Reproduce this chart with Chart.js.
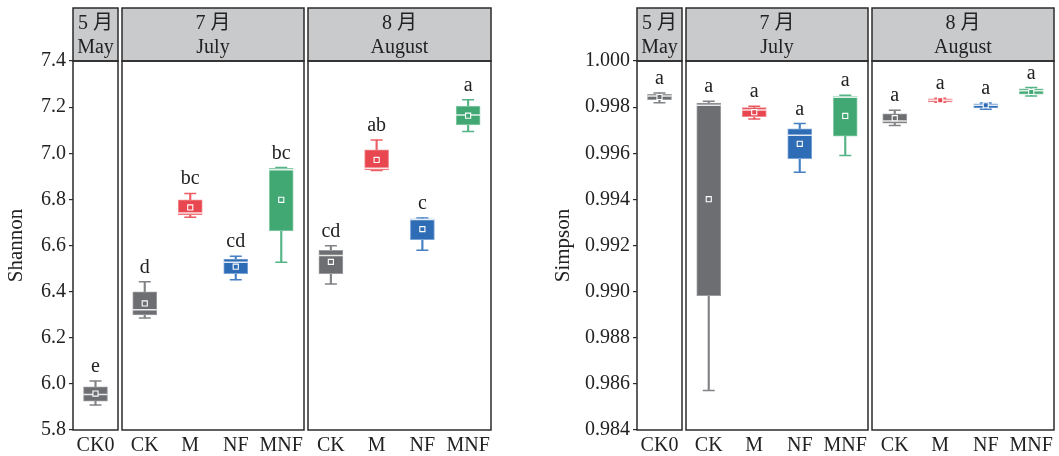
<!DOCTYPE html>
<html>
<head>
<meta charset="utf-8">
<script src="https://cdn.jsdelivr.net/npm/chart.js@4.4.0/dist/chart.umd.min.js"></script>
<style>
  html, body { margin: 0; padding: 0; background: #fff; }
  #wrap { position: relative; width: 1059px; height: 456px; overflow: hidden; }
  #wrap canvas { position: absolute; top: 0; }
</style>
</head>
<body>
<div id="wrap"></div>
<script>
// facets and groups
const monthZh = ["5 月", "7 月", "8 月"];
const monthEn = ["May", "July", "August"];
const facetGroups = [["CK0"], ["CK", "M", "NF", "MNF"], ["CK", "M", "NF", "MNF"]];

// order: CK0 | July CK M NF MNF | August CK M NF MNF
const shannonMin    = [5.908, 6.286, 6.723, 6.451, 6.527, 6.433, 6.925, 6.579, 7.094];
const shannonQ1     = [5.925, 6.299, 6.733, 6.478, 6.663, 6.478, 6.928, 6.625, 7.123];
const shannonMedian = [5.954, 6.321, 6.741, 6.527, 6.928, 6.557, 6.935, 6.713, 7.166];
const shannonQ3     = [5.987, 6.399, 6.798, 6.541, 6.935, 6.579, 7.015, 6.716, 7.205];
const shannonMax    = [6.012, 6.443, 6.826, 6.553, 6.938, 6.599, 7.057, 6.719, 7.232];
const shannonMean   = [5.958, 6.349, 6.765, 6.508, 6.798, 6.529, 6.971, 6.671, 7.163];
const shannonLetters = ["e", "d", "bc", "cd", "bc", "cd", "ab", "c", "a"];
const shannonTicks = { min: 5.8, max: 7.4, step: 0.2, digits: 1 };

const simpsonMin    = [0.99819, 0.98571, 0.99748, 0.99518, 0.99590, 0.99720, 0.99821, 0.99791, 0.998485];
const simpsonQ1     = [0.99832, 0.98983, 0.99759, 0.99577, 0.99674, 0.99730, 0.998225, 0.997965, 0.99856];
const simpsonMedian = [0.99848, 0.99808, 0.99788, 0.99678, 0.99843, 0.99740, 0.99830, 0.998082, 0.998715];
const simpsonQ3     = [0.99856, 0.99817, 0.99798, 0.99706, 0.99847, 0.99771, 0.998355, 0.998139, 0.998788];
const simpsonMax    = [0.998615, 0.998255, 0.99804, 0.997286, 0.998515, 0.997866, 0.998385, 0.998182, 0.998846];
const simpsonMean   = [0.99844, 0.99401, 0.99778, 0.99641, 0.99762, 0.99752, 0.99830, 0.998082, 0.99866];
const simpsonLetters = ["a", "a", "a", "a", "a", "a", "a", "a", "a"];
const simpsonTicks = { min: 0.984, max: 1.000, step: 0.002, digits: 3 };

const boxColors = { CK0: "#6d6e71", CK: "#6d6e71", M: "#e8474f", NF: "#2e6db5", MNF: "#41a873" };
const whiskerColors = { CK0: "#828386", CK: "#828386", M: "#eb5c63", NF: "#4580c4", MNF: "#55b486" };
const edgeColors = { CK0: "#9a9b9e", CK: "#9a9b9e", M: "#f08a8f", NF: "#7aa3d6", MNF: "#8acca9" };

const FONT = '"Liberation Serif", "Times New Roman", "Noto Sans CJK SC", serif';
const INK = "#222";

const facetFrame = {
  id: "facetFrame",
  afterDraw(chart, args, opts) {
    const { ctx, chartArea: a } = chart;
    ctx.save();
    ctx.fillStyle = "#c9cacc";
    ctx.fillRect(a.left, 8, a.right - a.left, a.top - 8);
    ctx.strokeStyle = "#2b2b2b";
    ctx.lineWidth = 1.5;
    ctx.strokeRect(a.left, 8, a.right - a.left, a.top - 8);
    ctx.strokeRect(a.left, a.top, a.right - a.left, a.bottom - a.top);
    ctx.fillStyle = INK;
    ctx.font = "20px " + FONT;
    ctx.textAlign = "center";
    ctx.textBaseline = "middle";
    const cx = (a.left + a.right) / 2;
    ctx.fillText(opts.zh, cx, 24);
    ctx.fillText(opts.en, cx, 48);
    ctx.restore();
  }
};

const letterLabels = {
  id: "letterLabels",
  afterDatasetsDraw(chart, args, opts) {
    const { ctx, scales } = chart;
    ctx.save();
    ctx.fillStyle = INK;
    ctx.font = "20px " + FONT;
    ctx.textAlign = "center";
    ctx.textBaseline = "alphabetic";
    opts.letters.forEach((t, i) => {
      ctx.fillText(t, scales.x.getPixelForValue(i), scales.y.getPixelForValue(opts.tops[i]) - 9);
    });
    ctx.restore();
  }
};

function makeFacet(panel, f) {
  const s = panel.stats;
  const start = [0, 1, 5][f];
  const groups = facetGroups[f];
  const pick = arr => arr.slice(start, start + groups.length);
  const mins = pick(s.min), q1 = pick(s.q1), med = pick(s.median), q3 = pick(s.q3), maxs = pick(s.max), means = pick(s.mean);
  const [aL, aR] = panel.areas[f];
  const padL = f === 0 ? panel.axisWidth : 2;
  const padR = 2;

  const canvas = document.createElement("canvas");
  canvas.width = aR - aL + padL + padR;
  canvas.height = 456;
  canvas.style.left = (aL - padL) + "px";
  canvas.style.width = canvas.width + "px";
  canvas.style.height = "456px";
  document.getElementById("wrap").appendChild(canvas);

  const fill = groups.map(g => boxColors[g]);
  const wc = groups.map(g => whiskerColors[g]);
  const ec = groups.map(g => edgeColors[g]);
  const t = panel.ticks;

  new Chart(canvas, {
    type: "bar",
    data: {
      labels: groups,
      datasets: [
        { type: "line", data: means, showLine: false, pointStyle: "rect", pointRadius: 3.6,
          pointBackgroundColor: fill, pointBorderColor: "#ffffff", pointBorderWidth: 1.1, order: 0 },
        { type: "line", data: med, showLine: false, pointStyle: "line", pointRadius: 12,
          pointBorderColor: "rgba(255,255,255,0.85)", pointBorderWidth: 1.5, order: 1 },
        { data: q1.map((v, i) => [v, q3[i]]), backgroundColor: fill, borderColor: ec, borderWidth: 1,
          borderSkipped: false, barThickness: 24, grouped: false, order: 2 },
        { type: "line", data: maxs, showLine: false, pointStyle: "line", pointRadius: 6,
          pointBorderColor: wc, pointBorderWidth: 1.5, order: 3 },
        { type: "line", data: mins, showLine: false, pointStyle: "line", pointRadius: 6,
          pointBorderColor: wc, pointBorderWidth: 1.5, order: 3 },
        { data: mins.map((v, i) => [v, maxs[i]]), backgroundColor: wc, barThickness: 1.5,
          grouped: false, order: 4 }
      ]
    },
    options: {
      responsive: false,
      animation: false,
      events: [],
      layout: { autoPadding: false, padding: { top: 61, bottom: 0, left: f === 0 ? 0 : 2, right: padR } },
      plugins: {
        legend: { display: false },
        tooltip: { enabled: false },
        facetFrame: { zh: monthZh[f], en: monthEn[f] },
        letterLabels: { letters: pick(s.letters), tops: maxs }
      },
      scales: {
        x: {
          type: "category",
          offset: true,
          grid: { display: false, drawTicks: false },
          border: { display: false },
          ticks: { color: INK, font: { family: FONT, size: 20 }, padding: 4, maxRotation: 0, autoSkip: false },
          afterFit(sc) {
            sc.height = 26;
            sc.paddingLeft = 0;
            sc.paddingRight = 0;
          }
        },
        y: {
          display: f === 0,
          min: t.min,
          max: t.max,
          grid: { drawOnChartArea: false, drawTicks: true, tickLength: 4, color: "#2b2b2b", lineWidth: 1.2 },
          border: { display: false },
          ticks: { stepSize: t.step, color: INK, font: { family: FONT, size: 20 }, padding: 3,
                   callback: v => Number(v).toFixed(t.digits) },
          title: { display: true, text: panel.title, color: INK, font: { family: FONT, size: 21 },
                   padding: { top: 4, bottom: 0 } },
          afterFit(sc) {
            sc.width = f === 0 ? panel.axisWidth : 0;
            sc.paddingTop = 0;
            sc.paddingBottom = 0;
          }
        }
      }
    },
    plugins: [facetFrame, letterLabels]
  });
}

const panels = [
  {
    title: "Shannon", axisWidth: 73, ticks: shannonTicks,
    areas: [[73, 118], [122, 304], [308, 491]],
    stats: { min: shannonMin, q1: shannonQ1, median: shannonMedian, q3: shannonQ3, max: shannonMax, mean: shannonMean, letters: shannonLetters }
  },
  {
    title: "Simpson", axisWidth: 90, ticks: simpsonTicks,
    areas: [[637, 682], [686, 868], [872, 1054]],
    stats: { min: simpsonMin, q1: simpsonQ1, median: simpsonMedian, q3: simpsonQ3, max: simpsonMax, mean: simpsonMean, letters: simpsonLetters }
  }
];

panels.forEach(p => [0, 1, 2].forEach(f => makeFacet(p, f)));
</script>
</body>
</html>
